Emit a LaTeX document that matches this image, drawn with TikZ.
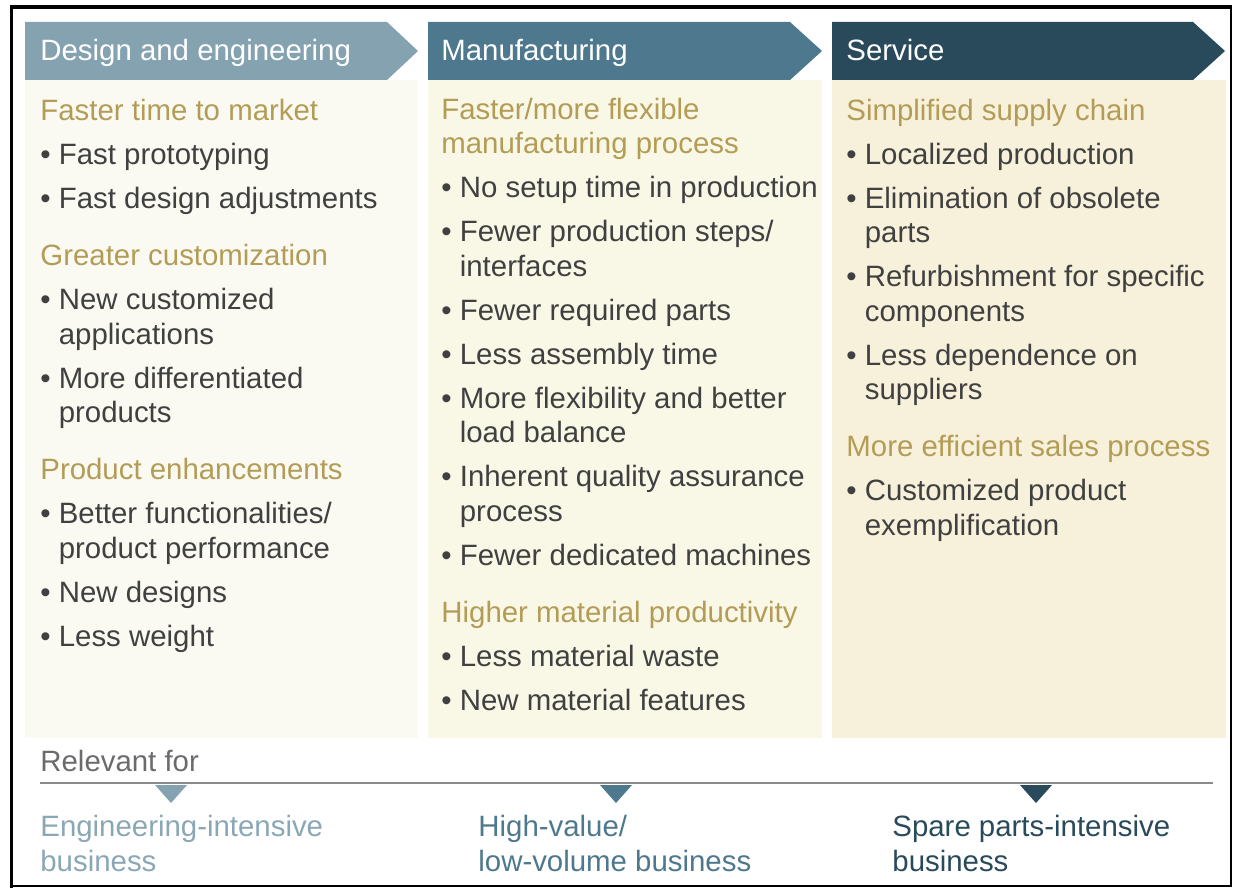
\documentclass[tikz,border=0pt]{standalone}
\usepackage{fontspec}
\setmainfont{Liberation Sans}
\usetikzlibrary{positioning}

\definecolor{designblue}{HTML}{84A2B0}
\definecolor{manublue}{HTML}{4E788E}
\definecolor{serviceblue}{HTML}{294A5B}
\definecolor{designbg}{HTML}{FAFAF3}
\definecolor{manubg}{HTML}{F9F7E6}
\definecolor{servicebg}{HTML}{F7F1DB}
\definecolor{headgold}{HTML}{B39C55}
\definecolor{bodygray}{HTML}{404040}
\definecolor{relgray}{HTML}{6B6B6B}
\definecolor{designlight}{HTML}{8AA7B6}

\newcommand{\bodyfont}{\fontsize{14.7}{17.25}\selectfont}
\newcommand{\ind}{\phantom{\textbullet\ }}
\newcommand{\hd}[1]{{\color{headgold}#1}}

\begin{document}
\begin{tikzpicture}[x=0.5pt, y=-0.5pt,
			headtext/.style={anchor=base west, inner sep=0pt, text=white, font=\bodyfont},
			colbody/.style={anchor=base west, inner sep=0pt, align=left, text=bodygray, font=\bodyfont},
			reltext/.style={anchor=base west, inner sep=0pt, align=left, font=\bodyfont}]
			\useasboundingbox (0,0) rectangle (1235,888);
			% frame
			\draw[line width=1.6pt] (11.5,888) -- (11.5,7) -- (1232,7);
			\draw[line width=0.6pt] (1231,7) -- (1231,886) -- (11.5,886);
			% column backgrounds
			\fill[designbg] (25,80) rectangle (418,738);
			\fill[manubg] (428,80) rectangle (822,738);
			\fill[servicebg] (832,80) rectangle (1226,738);
			% header arrows
			\fill[designblue] (25,22) -- (387,22) -- (418,51) -- (387,80) -- (25,80) -- cycle;
			\fill[manublue] (428,22) -- (790,22) -- (822,51) -- (790,80) -- (428,80) -- cycle;
			\fill[serviceblue] (832,22) -- (1193,22) -- (1225,51) -- (1193,80) -- (832,80) -- cycle;
			\node[headtext] (designhead) at (40,61) {Design and engineering};
			\node[headtext] (manuhead) at (441,61) {Manufacturing};
			\node[headtext] (servicehead) at (846,61) {Service};
			% column texts (placed by the baseline of their last line)
			\node[colbody] (designbody) at (40,646) {\hd{Faster time to market}\\[4.75pt]
				\textbullet\ Fast prototyping\\[4.75pt]
				\textbullet\ Fast design adjustments\\[11.25pt]
				\hd{Greater customization}\\[4.75pt]
				\textbullet\ New customized\\
				\ind applications\\[4.75pt]
				\textbullet\ More differentiated\\
				\ind products\\[11.25pt]
				\hd{Product enhancements}\\[4.75pt]
				\textbullet\ Better functionalities/\\
				\ind product performance\\[4.75pt]
				\textbullet\ New designs\\[4.75pt]
				\textbullet\ Less weight};
			\node[colbody] (manubody) at (441,710) {\hd{Faster/more flexible}\\
				\hd{manufacturing process}\\[4.75pt]
				\textbullet\ No setup time in production\\[4.75pt]
				\textbullet\ Fewer production steps/\\
				\ind interfaces\\[4.75pt]
				\textbullet\ Fewer required parts\\[4.75pt]
				\textbullet\ Less assembly time\\[4.75pt]
				\textbullet\ More flexibility and better\\
				\ind load balance\\[4.75pt]
				\textbullet\ Inherent quality assurance\\
				\ind process\\[4.75pt]
				\textbullet\ Fewer dedicated machines\\[11.25pt]
				\hd{Higher material productivity}\\[4.75pt]
				\textbullet\ Less material waste\\[4.75pt]
				\textbullet\ New material features};
			\node[colbody] (servicebody) at (846,535) {\hd{Simplified supply chain}\\[4.75pt]
				\textbullet\ Localized production\\[4.75pt]
				\textbullet\ Elimination of obsolete\\
				\ind parts\\[4.75pt]
				\textbullet\ Refurbishment for specific\\
				\ind components\\[4.75pt]
				\textbullet\ Less dependence on\\
				\ind suppliers\\[11.25pt]
				\hd{More efficient sales process}\\[4.75pt]
				\textbullet\ Customized product\\
				\ind exemplification};
			% relevant for
			\node[reltext, text=relgray] (relevant) at (40,771) {Relevant for};
			\draw[relgray!80, line width=1pt] (40,783) -- (1213,783);
			\fill[designblue] (155,785) -- (187,785) -- (171,803) -- cycle;
			\fill[manublue] (600,785) -- (632,785) -- (616,803) -- cycle;
			\fill[serviceblue] (1020,785) -- (1052,785) -- (1036,803) -- cycle;
			\node[reltext, text=designlight] (designfor) at (40,871) {Engineering-intensive\\business};
			\node[reltext, text=manublue] (manufor) at (478,871) {High-value/\\low-volume business};
			\node[reltext, text=serviceblue] (servicefor) at (892,871) {Spare parts-intensive\\business};
		\end{tikzpicture}
\end{document}
